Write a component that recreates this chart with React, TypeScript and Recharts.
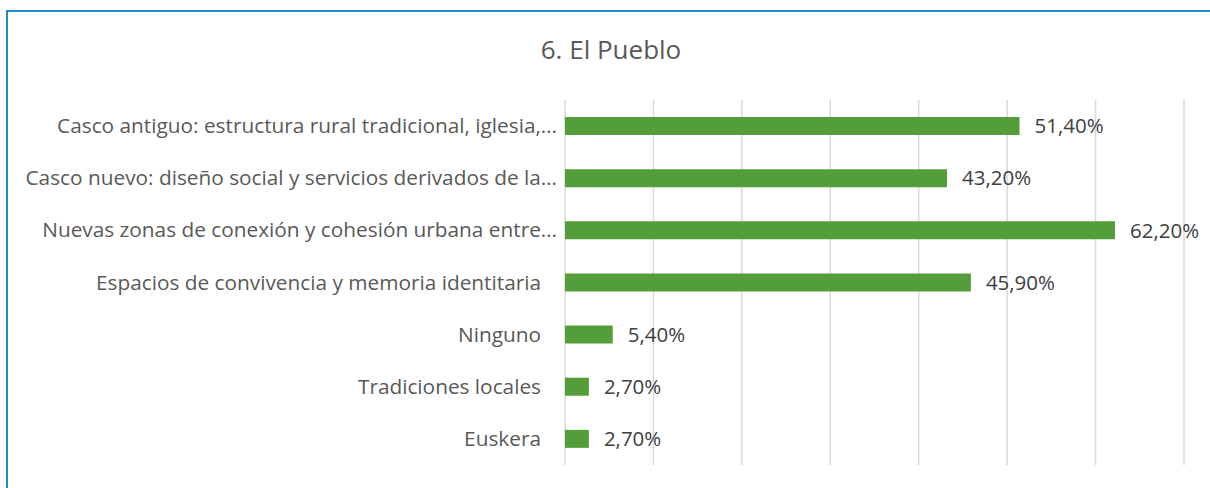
import { BarChart, Bar, XAxis, YAxis, CartesianGrid, LabelList } from 'recharts';

const categories = [
  'Casco antiguo: estructura rural tradicional, iglesia,…',
  'Casco nuevo: diseño social y servicios derivados de la…',
  'Nuevas zonas de conexión y cohesión urbana entre…',
  'Espacios de convivencia y memoria identitaria',
  'Ninguno',
  'Tradiciones locales',
  'Euskera',
];
const values = [51.4, 43.2, 62.2, 45.9, 5.4, 2.7, 2.7];
const xTicks = [0, 10, 20, 30, 40, 50, 60, 70];

const data = categories.map((name, i) => ({ name, value: values[i] }));

const font = '"Open Sans", sans-serif';
const fmt = (v: any) => Number(v).toFixed(2).replace('.', ',') + '%';

// excel leaves a gap after full labels, truncated ones run up to the axis
function CategoryTick(props: any) {
  const { x, y, payload } = props;
  const label = String(payload.value);
  const shift = label.endsWith('…') ? 0 : 16;
  return (
    <text x={x - shift} y={y} dy={7} textAnchor="end" fill="#595959" fontSize={20.8} fontFamily={font}>
      {label}
    </text>
  );
}

export default function App() {
  return (
    <div style={{ position: 'absolute', left: 0, top: 0, width: 1210, height: 488, background: '#fff', fontFamily: font }}>
      {/* blue frame on the left and top */}
      <div style={{ position: 'absolute', left: 6, top: 10, right: 0, bottom: 0, borderLeft: '2px solid #1a8ec1', borderTop: '2px solid #1a8ec1' }} />
      <div style={{ position: 'absolute', left: 0, width: 1222, top: 31, textAlign: 'center', fontSize: 26, color: '#595959' }}>
        6. El Pueblo
      </div>
      <div style={{ position: 'absolute', left: 0, top: 0 }}>
        <BarChart width={1210} height={488} data={data} layout="vertical" margin={{ top: 100, right: 26, bottom: 23, left: 0 }}>
          <CartesianGrid horizontal={false} stroke="#d9d9d9" strokeWidth={1.5} />
          <XAxis type="number" domain={[0, 70]} ticks={xTicks} tick={() => <g />} axisLine={false} tickLine={false} height={0} />
          <YAxis
            type="category"
            dataKey="name"
            width={565}
            axisLine={false}
            tickLine={false}
            tickSize={0}
            tickMargin={8}
            interval={0}
            tick={<CategoryTick />}
          />
          <Bar dataKey="value" fill="#549e39" barSize={18} isAnimationActive={false}>
            <LabelList dataKey="value" position="right" offset={15} formatter={fmt} style={{ fill: '#404040', fontSize: 20.5, fontFamily: font }} />
          </Bar>
        </BarChart>
      </div>
    </div>
  );
}
